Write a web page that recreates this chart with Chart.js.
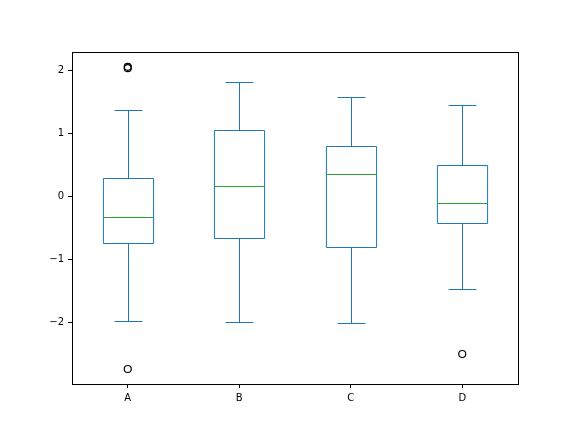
<!DOCTYPE html>
<html><head><meta charset="utf-8">
<script src="https://cdn.jsdelivr.net/npm/chart.js@4"></script>
<style>html,body{margin:0;padding:0;background:#fff}#w{width:576px;height:432px}</style>
</head><body><div id="w"><canvas id="c"></canvas></div>
<script>
const categories = ['A','B','C','D'];
const whiskerLow = [-1.984, -2.0, -2.016, -1.476];
const q1 = [-0.746, -0.667, -0.81, -0.429];
const median = [-0.333, 0.159, 0.349, -0.111];
const q3 = [0.286, 1.048, 0.794, 0.492];
const whiskerHigh = [1.365, 1.81, 1.571, 1.444];
const outlierCat = ['A','A','A','D'];
const outlierVal = [2.03, 2.05, -2.746, -2.508];

const boxPlugin = {
  id: 'box',
  afterDatasetsDraw(chart) {
    const ctx = chart.ctx, xs = chart.scales.x, ys = chart.scales.y, a = chart.chartArea;
    const step = xs.getPixelForValue(1) - xs.getPixelForValue(0);
    const hw = step * 0.225, cw = step * 0.125;
    ctx.save();
    ctx.lineWidth = 1;
    categories.forEach((c, i) => {
      const x = Math.round(xs.getPixelForValue(i)) + 0.5;
      const p = v => Math.round(ys.getPixelForValue(v)) + 0.5;
      ctx.strokeStyle = '#1f77b4';
      ctx.beginPath();
      ctx.rect(x - hw, p(q3[i]), 2 * hw, p(q1[i]) - p(q3[i]));
      ctx.moveTo(x, p(q3[i])); ctx.lineTo(x, p(whiskerHigh[i]));
      ctx.moveTo(x, p(q1[i])); ctx.lineTo(x, p(whiskerLow[i]));
      ctx.moveTo(x - cw, p(whiskerHigh[i])); ctx.lineTo(x + cw, p(whiskerHigh[i]));
      ctx.moveTo(x - cw, p(whiskerLow[i])); ctx.lineTo(x + cw, p(whiskerLow[i]));
      ctx.stroke();
      ctx.strokeStyle = '#2ca02c';
      ctx.beginPath();
      ctx.moveTo(x - hw, p(median[i])); ctx.lineTo(x + hw, p(median[i]));
      ctx.stroke();
    });
    ctx.strokeStyle = '#000';
    ctx.strokeRect(Math.round(a.left) + 0.5, Math.round(a.top) + 0.5, Math.round(a.right - a.left), Math.round(a.bottom - a.top));
    ctx.restore();
  }
};

const font = {family: 'DejaVu Sans', size: 10};
new Chart(document.getElementById('c'), {
  type: 'line',
  data: {
    labels: categories,
    datasets: [{
      data: outlierVal.map((v, i) => ({x: outlierCat[i], y: v})),
      showLine: false, pointRadius: 3.5, pointBorderColor: '#000',
      pointBackgroundColor: 'rgba(0,0,0,0)', pointBorderWidth: 1.2
    }]
  },
  options: {
    responsive: true, maintainAspectRatio: false, animation: false,
    layout: {padding: {top: 52, right: 58, left: 0, bottom: 0}},
    plugins: {legend: {display: false}, tooltip: {enabled: false}},
    scales: {
      x: {
        offset: true,
        grid: {display: true, drawOnChartArea: false, tickLength: 4, color: '#000', offset: false},
        border: {color: '#000'},
        ticks: {color: '#000', font, padding: 4},
        afterFit(s) { s.height = 48; }
      },
      y: {
        min: -2.984, max: 2.286,
        grid: {display: true, drawOnChartArea: false, tickLength: 4, color: '#000'},
        border: {color: '#000'},
        ticks: {color: '#000', font, stepSize: 1, padding: 4,
          callback: v => (v < 0 ? '\u2212' + Math.abs(v) : String(v))},
        afterBuildTicks(s) { s.ticks = s.ticks.filter(t => Number.isInteger(t.value)); },
        afterFit(s) { s.width = 72; }
      }
    }
  },
  plugins: [boxPlugin]
});
</script></body></html>
